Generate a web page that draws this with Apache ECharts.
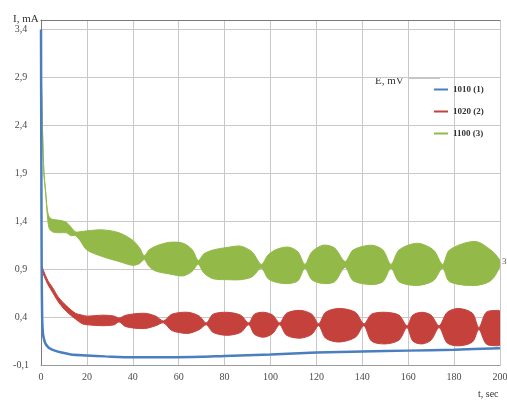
<!DOCTYPE html>
<html>
<head>
<meta charset="utf-8">
<script src="https://cdn.jsdelivr.net/npm/echarts@6/dist/echarts.min.js"></script>
<style>
html,body{margin:0;padding:0;background:#fff;}
#c{width:507px;height:401px;}
</style>
</head>
<body>
<div id="c"></div>
<script>
// ---- data ----
const xTicks = [0, 20, 40, 60, 80, 100, 120, 140, 160, 180, 200];
const yTickLabels = ['-0,1', '0,4', '0,9', '1,4', '1,9', '2,4', '2,9', '3,4'];
const legendNames = ['1010 (1)', '1020 (2)', '1100 (3)'];

// series 1 (1010 mV): time, current
const blueT = [0, 0.15, 0.3, 0.5, 0.8, 1.3, 2, 3, 4, 6, 9, 13, 20, 28, 40, 56, 70, 80, 100, 120, 140, 160, 180, 200];
const blueV = [3.40, 2.0, 0.9, 0.4, 0.24, 0.17, 0.12, 0.09, 0.07, 0.05, 0.03, 0.01, 0.0, -0.01, -0.02, -0.02, -0.015, -0.005, 0.01, 0.03, 0.04, 0.05, 0.06, 0.075];

// series 2 (1020 mV): oscillation envelope (time, lower, upper)
const redT  = [0, 1, 3, 5, 7.5, 11, 15, 18, 20, 27, 32, 34, 37, 45, 50, 53.4, 57, 64, 69, 72, 75, 81, 87, 90.5, 93, 97, 101, 104, 107, 113, 118, 121, 124, 130, 137, 140.7, 144, 150, 156, 159.5, 162, 166, 170, 173.5, 177, 182, 188, 190.8, 194, 199, 200];
const redLo = [0.94, 0.85, 0.74, 0.66, 0.56, 0.46, 0.38, 0.33, 0.32, 0.31, 0.32, 0.35, 0.30, 0.28, 0.31, 0.34, 0.26, 0.23, 0.27, 0.32, 0.24, 0.21, 0.24, 0.32, 0.22, 0.19, 0.23, 0.32, 0.21, 0.18, 0.22, 0.31, 0.18, 0.14, 0.19, 0.31, 0.15, 0.12, 0.16, 0.29, 0.15, 0.12, 0.16, 0.29, 0.13, 0.10, 0.14, 0.27, 0.12, 0.10, 0.11];
const redHi = [0.96, 0.89, 0.78, 0.71, 0.61, 0.52, 0.44, 0.42, 0.41, 0.42, 0.41, 0.39, 0.42, 0.44, 0.41, 0.36, 0.43, 0.45, 0.41, 0.34, 0.43, 0.45, 0.42, 0.34, 0.43, 0.45, 0.42, 0.34, 0.44, 0.47, 0.43, 0.33, 0.45, 0.49, 0.45, 0.33, 0.43, 0.45, 0.42, 0.31, 0.42, 0.45, 0.42, 0.31, 0.45, 0.49, 0.44, 0.29, 0.45, 0.47, 0.46];

// series 3 (1100 mV): oscillation envelope (time, lower, upper)
const greenT  = [0, 0.7, 1.3, 2.0, 2.7, 3.5, 5, 8, 11, 13, 15, 17, 20, 27, 34, 40, 43, 45, 47, 50, 56, 62, 66, 68.5, 71, 75, 82, 87, 92, 96, 99, 103, 108, 112, 115, 118, 123, 128, 132.5, 136, 144, 149, 152.5, 156, 164, 171, 175, 178, 189, 196, 200];
const greenLo = [3.10, 2.30, 1.88, 1.70, 1.48, 1.33, 1.29, 1.28, 1.28, 1.25, 1.25, 1.20, 1.10, 1.03, 0.98, 0.94, 0.96, 1.00, 0.93, 0.88, 0.85, 0.83, 0.88, 0.95, 0.86, 0.80, 0.79, 0.79, 0.82, 0.91, 0.80, 0.76, 0.75, 0.78, 0.91, 0.79, 0.75, 0.77, 0.92, 0.78, 0.74, 0.77, 0.91, 0.77, 0.73, 0.78, 0.91, 0.77, 0.73, 0.78, 0.93];
const greenHi = [3.10, 2.32, 1.90, 1.72, 1.53, 1.45, 1.42, 1.41, 1.39, 1.34, 1.29, 1.29, 1.30, 1.31, 1.28, 1.20, 1.12, 1.04, 1.10, 1.14, 1.18, 1.17, 1.10, 0.99, 1.06, 1.10, 1.13, 1.14, 1.08, 0.95, 1.05, 1.11, 1.13, 1.08, 0.95, 1.08, 1.15, 1.12, 0.98, 1.10, 1.15, 1.10, 0.95, 1.10, 1.17, 1.10, 0.95, 1.10, 1.19, 1.10, 0.99];

const colors = { blue: '#4a7ebf', red: '#c4413c', green: '#93ba48' };

// The value axis is drawn shifted so that ticks fall on -0.1, 0.4, ... (interval 0.5 from 0)
const Y_OFFSET = 0.1;
const sh = v => +(v + Y_OFFSET).toFixed(4);

function bandSeries(name, t, lo, hi, color) {
  return {
    name: name, type: 'custom', silent: true, clip: true,
    itemStyle: { color: color },
    data: [[0, 0]],
    encode: { x: 0, y: 1 },
    renderItem: function (params, api) {
      const pts = [];
      for (let i = 0; i < t.length; i++) pts.push(api.coord([t[i], sh(hi[i])]));
      for (let i = t.length - 1; i >= 0; i--) pts.push(api.coord([t[i], sh(lo[i])]));
      return {
        type: 'polygon',
        shape: { points: pts, smooth: 0.3 },
        style: { fill: color, stroke: color, lineWidth: 1 }
      };
    },
    z: 2
  };
}

const serif = 'Liberation Serif, DejaVu Serif, serif';
const chart = echarts.init(document.getElementById('c'), null, { renderer: 'canvas' });

chart.setOption({
  animation: false,
  backgroundColor: '#ffffff',
  grid: { left: 41, right: 7, top: 20, bottom: 36, containLabel: false, outerBoundsMode: 'none' },
  xAxis: [
    {
      type: 'value', min: 0, max: 200, interval: 20,
      axisLine: { show: true, lineStyle: { color: '#9a9a9a', width: 1 } },
      axisTick: { show: false },
      splitLine: { show: true, lineStyle: { color: '#c8c8c8', width: 1 } },
      axisLabel: {
        margin: 7, fontFamily: serif, fontSize: 10, color: '#4a4a4a',
        formatter: v => (xTicks.indexOf(v) >= 0 ? String(v) : '')
      }
    },
    {
      type: 'value', min: 0, max: 200, position: 'top',
      axisLine: { show: true, lineStyle: { color: '#7a7a7a', width: 1 } },
      axisTick: { show: false }, axisLabel: { show: false }, splitLine: { show: false }
    }
  ],
  yAxis: {
    type: 'value', min: 0, max: 3.6, interval: 0.5,
    axisLine: { show: true, lineStyle: { color: '#7a7a7a', width: 1 } },
    axisTick: { show: false },
    splitLine: { show: true, lineStyle: { color: '#c8c8c8', width: 1 } },
    axisLabel: {
      margin: 20, align: 'center', fontFamily: serif, fontSize: 10, color: '#4a4a4a',
      showMaxLabel: false,
      formatter: v => {
        const k = Math.round(v / 0.5);
        return Math.abs(k * 0.5 - v) < 1e-6 && yTickLabels[k] ? yTickLabels[k] : '';
      }
    }
  },
  legend: {
    orient: 'vertical', left: 434, top: 85, itemGap: 13, padding: 0,
    itemWidth: 14, itemHeight: 2, icon: 'rect',
    textStyle: { fontFamily: serif, fontSize: 9, fontWeight: 'bold', color: '#333' },
    data: [
      { name: legendNames[0], itemStyle: { color: colors.blue } },
      { name: legendNames[1], itemStyle: { color: colors.red } },
      { name: legendNames[2], itemStyle: { color: colors.green } }
    ]
  },
  graphic: [
    { type: 'text', left: 13, top: 14, style: { text: 'I, mA', font: '11px ' + serif, fill: '#333' } },
    { type: 'text', left: 478, top: 389, style: { text: 't, sec', font: '10px ' + serif, fill: '#333' } },
    { type: 'text', left: 375, top: 76, style: { text: 'E, mV', font: '11px ' + serif, fill: '#333' } },
    { type: 'line', shape: { x1: 408, y1: 78, x2: 440, y2: 78 }, style: { stroke: '#8a8a8a', lineWidth: 1 } },
    { type: 'text', left: 502, top: 257, style: { text: '3', font: '9px ' + serif, fill: '#555' } }
  ],
  series: [
    bandSeries(legendNames[2], greenT, greenLo, greenHi, colors.green),
    bandSeries(legendNames[1], redT, redLo, redHi, colors.red),
    {
      name: legendNames[0], type: 'line', silent: true,
      data: blueT.map((x, i) => [x, sh(blueV[i])]),
      symbol: 'none', smooth: 0.3,
      lineStyle: { color: colors.blue, width: 2.5 },
      itemStyle: { color: colors.blue }, z: 3
    }
  ]
});
</script>
</body>
</html>
